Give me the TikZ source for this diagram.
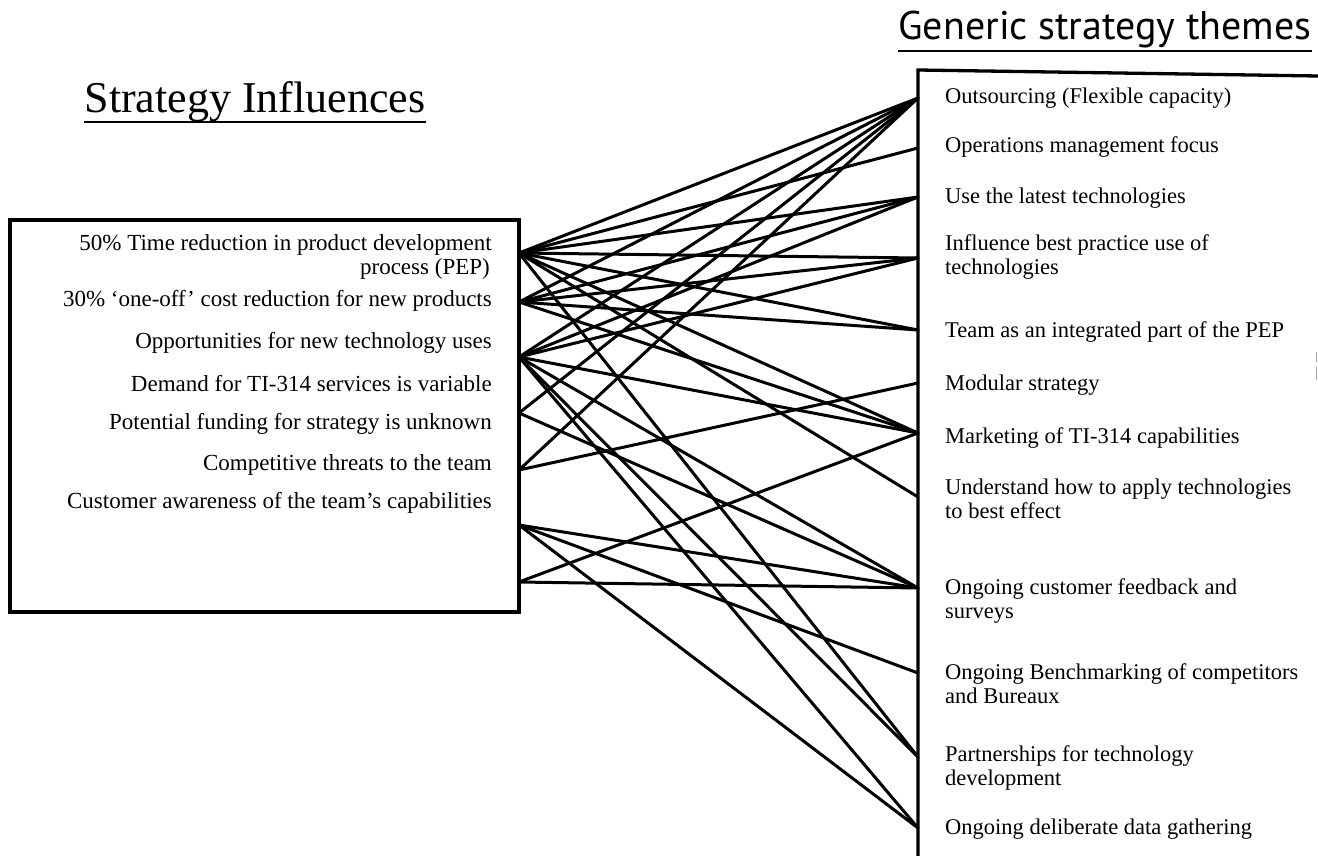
\documentclass[tikz,border=0pt]{standalone}
\usepackage{fontspec}
\setmainfont{Liberation Serif}
\newfontfamily\titlesans{PT Sans}
\begin{document}
\begin{tikzpicture}[x=1pt,y=-1pt,
  boxline/.style={line width=3.3pt},
  link/.style={line width=3pt, line cap=round},
  ltext/.style={anchor=east, inner sep=0pt, font=\fontsize{23}{24}\selectfont},
  rtext/.style={anchor=west, inner sep=0pt, align=left, font=\fontsize{22.5}{24}\selectfont},
  ttl/.style={anchor=base, inner sep=0pt},
  uline/.style={line width=2pt}]
\useasboundingbox (0,0) rectangle (1318,856);
\fill[white] (0,0) rectangle (1318,856);

% titles with underlines
\node[ttl, font=\fontsize{44}{46}\selectfont] (tleft) at (255,113) {Strategy Influences};
\draw[uline] ([yshift=-9]tleft.base west) -- ([yshift=-9]tleft.base east);
\node[ttl, font=\titlesans\fontsize{40}{42}\selectfont] (tright) at (1105,40) {Generic strategy themes};
\draw[uline] ([yshift=-11]tright.base west) -- ([yshift=-11]tright.base east);

% boxes
\draw[boxline] (10,220) rectangle (519,612);
\draw[boxline] (1318,76) -- (918,70) -- (918,856);
\draw[gray!70, line width=1pt] (1316.5,352) -- (1316.5,362) (1316.5,367) -- (1316.5,380);

% influences
\node[ltext] (i1a) at (492,245) {50\% Time reduction in product development};
\node[ltext] (i1b) at (490,269) {process (PEP)};
\node[ltext] (i2) at (492,301) {30\% `one-off' cost reduction for new products};
\node[ltext] (i3) at (492,343) {Opportunities for new technology uses};
\node[ltext] (i4) at (492,384) {Demand for TI-314 services is variable};
\node[ltext] (i5) at (492,424) {Potential funding for strategy is unknown};
\node[ltext] (i6) at (492,465) {Competitive threats to the team};
\node[ltext] (i7) at (492,503) {Customer awareness of the team's capabilities};

% themes
\node[rtext] (s1) at (945,98) {Outsourcing (Flexible capacity)};
\node[rtext] (s2) at (945,147) {Operations management focus};
\node[rtext] (s3) at (945,198) {Use the latest technologies};
\node[rtext] (s4) at (945,257) {Influence best practice use of\\technologies};
\node[rtext] (s5) at (945,332) {Team as an integrated part of the PEP};
\node[rtext] (s6) at (945,385) {Modular strategy};
\node[rtext] (s7) at (945,438) {Marketing of TI-314 capabilities};
\node[rtext] (s8) at (945,499) {Understand how to apply technologies\\to best effect};
\node[rtext] (s9) at (945,601) {Ongoing customer feedback and\\surveys};
\node[rtext] (s10) at (945,684) {Ongoing Benchmarking of competitors\\and Bureaux};
\node[rtext] (s11) at (945,768) {Partnerships for technology\\development};
\node[rtext] (s12) at (945,829) {Ongoing deliberate data gathering};

% connection points
\coordinate (l1) at (519,253);
\coordinate (l2) at (519,302);
\coordinate (l3) at (519,357);
\coordinate (l4) at (519,413);
\coordinate (l5) at (519,470);
\coordinate (l6) at (519,525);
\coordinate (l7) at (519,582);
\coordinate (r1) at (918,98);
\coordinate (r2) at (918,148);
\coordinate (r3) at (918,197);
\coordinate (r4) at (918,258);
\coordinate (r5) at (918,330);
\coordinate (r6) at (918,383);
\coordinate (r7) at (918,433);
\coordinate (r8) at (918,497);
\coordinate (r9) at (918,588);
\coordinate (r10) at (918,673);
\coordinate (r11) at (918,757);
\coordinate (r12) at (918,828);

% links
\foreach \t in {r1,r2,r3,r4,r5,r7,r8,r11} \draw[link] (l1) -- (\t);
\foreach \t in {r1,r3,r4,r5,r7} \draw[link] (l2) -- (\t);
\foreach \t in {r1,r3,r4,r7,r9,r11,r12} \draw[link] (l3) -- (\t);
\foreach \t in {r1,r9} \draw[link] (l4) -- (\t);
\foreach \t in {r1,r6} \draw[link] (l5) -- (\t);
\foreach \t in {r9,r10,r12} \draw[link] (l6) -- (\t);
\foreach \t in {r7,r9} \draw[link] (l7) -- (\t);
\end{tikzpicture}
\end{document}
